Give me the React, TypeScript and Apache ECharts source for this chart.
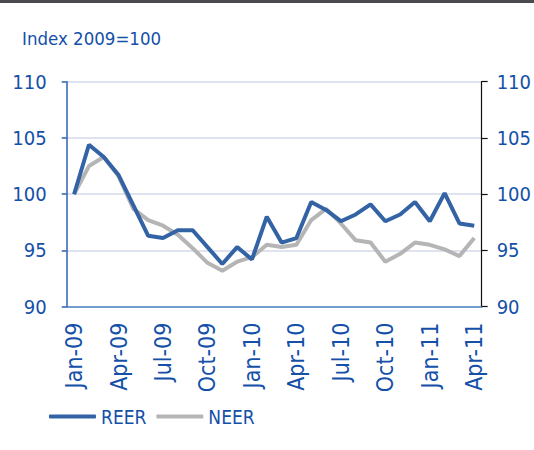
import React, { useEffect, useRef } from "react";
import * as echarts from "echarts";

const months = [
  "Jan-09","Feb-09","Mar-09","Apr-09","May-09","Jun-09","Jul-09","Aug-09","Sep-09","Oct-09","Nov-09","Dec-09",
  "Jan-10","Feb-10","Mar-10","Apr-10","May-10","Jun-10","Jul-10","Aug-10","Sep-10","Oct-10","Nov-10","Dec-10",
  "Jan-11","Feb-11","Mar-11","Apr-11",
];
const reer = [100.0,104.4,103.3,101.7,99.0,96.3,96.1,96.8,96.8,95.3,93.8,95.3,94.2,98.0,95.7,96.1,99.3,98.6,97.6,98.2,99.1,97.6,98.2,99.3,97.6,100.1,97.4,97.2];
const neer = [100.0,102.5,103.3,101.6,98.7,97.7,97.2,96.4,95.2,93.9,93.2,94.0,94.4,95.5,95.3,95.5,97.7,98.7,97.4,95.9,95.7,94.0,94.7,95.7,95.5,95.1,94.5,96.1];
const yTicks = [90, 95, 100, 105, 110];
const titleText = "Index 2009=100";

const BLUE_TEXT = "#1450a8";
const REER_COLOR = "#3363a5";
const NEER_COLOR = "#b5b5b5";
const FONT = "'DejaVu Sans Condensed', 'Liberation Sans Narrow', Roboto, sans-serif";

export default function App() {
  const ref = useRef<HTMLDivElement>(null);
  useEffect(() => {
    document.body.style.margin = "0";
    const chart = echarts.init(ref.current!, null, { renderer: "svg" });
    const yMin = yTicks[0];
    const yMax = yTicks[yTicks.length - 1];
    const yInt = yTicks[1] - yTicks[0];
    chart.setOption({
      animation: false,
      textStyle: { fontFamily: FONT },
      graphic: [
        { type: "rect", shape: { x: 0, y: 0, width: 534, height: 3 }, style: { fill: "#4a4b50" } },
        {
          type: "text", left: 22, top: 29,
          style: { text: titleText, fill: BLUE_TEXT, font: `18.5px ${FONT}` },
        },
      ],
      grid: { left: 66.7, right: 47.3, top: 81.7, bottom: 143.3 },
      legend: {
        left: 44, top: 402, icon: "roundRect", itemWidth: 47, itemHeight: 4, itemGap: 10,
        textStyle: { color: BLUE_TEXT, fontSize: 19, fontFamily: FONT },
        data: ["REER", "NEER"],
      },
      xAxis: {
        type: "category", data: months, boundaryGap: true,
        axisLine: { lineStyle: { color: "#4f86c6", width: 1.5 } },
        axisTick: { interval: 2, length: 6, lineStyle: { color: "#4f86c6", width: 1.5 } },
        axisLabel: { interval: 2, rotate: 90, color: BLUE_TEXT, fontSize: 23, margin: 16, fontFamily: FONT },
      },
      yAxis: [
        {
          type: "value", min: yMin, max: yMax, interval: yInt, position: "left",
          axisLine: { show: true, lineStyle: { color: "#2f62b0", width: 1.5 } },
          axisTick: { show: true, length: 5, lineStyle: { color: "#2f62b0", width: 1.5 } },
          axisLabel: { color: BLUE_TEXT, fontSize: 20, margin: 20, fontFamily: FONT },
          splitLine: { show: true, lineStyle: { color: "#d3daea", width: 1.5 } },
        },
        {
          type: "value", min: yMin, max: yMax, interval: yInt, position: "right",
          axisLine: { show: true, lineStyle: { color: "#111", width: 1.2 } },
          axisTick: { show: true, length: 6, lineStyle: { color: "#111", width: 1.2 } },
          axisLabel: { color: BLUE_TEXT, fontSize: 20, margin: 15, fontFamily: FONT },
          splitLine: { show: false },
        },
      ],
      series: [
        {
          name: "NEER", type: "line", data: neer, symbol: "none", z: 2,
          lineStyle: { color: NEER_COLOR, width: 4 }, itemStyle: { color: NEER_COLOR },
        },
        {
          name: "REER", type: "line", data: reer, symbol: "none", z: 3,
          lineStyle: { color: REER_COLOR, width: 4 }, itemStyle: { color: REER_COLOR },
        },
      ],
    });
    return () => chart.dispose();
  }, []);
  return <div ref={ref} style={{ width: 534, height: 450 }} />;
}
